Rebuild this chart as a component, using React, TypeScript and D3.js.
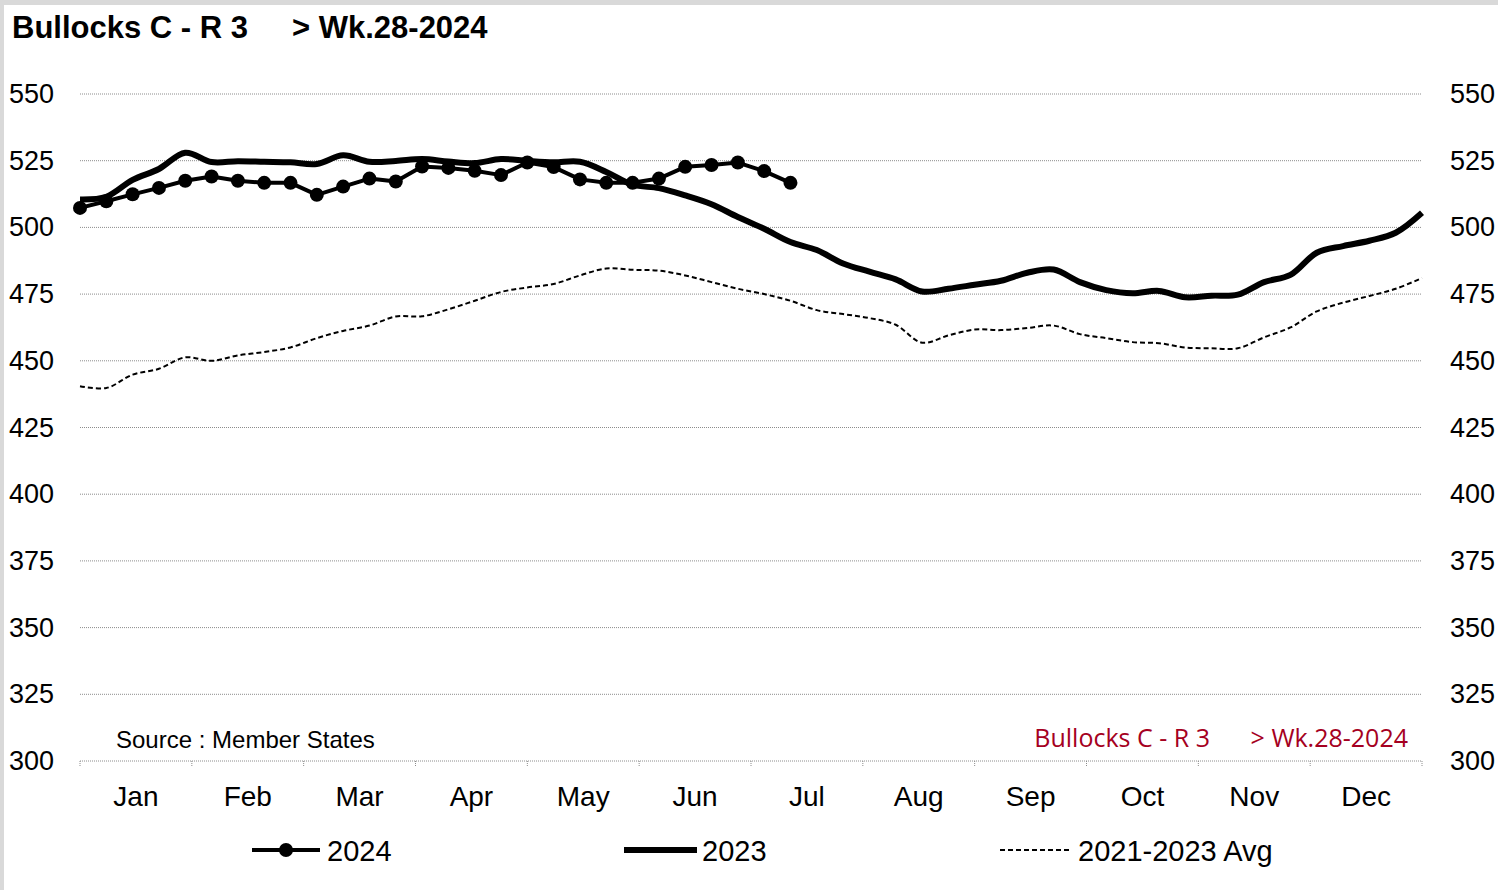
import React from 'react';
import * as d3 from 'd3';

// weekly prices, EUR/100kg
const months = ['Jan', 'Feb', 'Mar', 'Apr', 'May', 'Jun', 'Jul', 'Aug', 'Sep', 'Oct', 'Nov', 'Dec'];
const yTicks = [300, 325, 350, 375, 400, 425, 450, 475, 500, 525, 550];

const s2024 = [
  507.3, 509.8, 512.4, 514.8, 517.5, 519.1, 517.5, 516.7, 516.7, 512.2,
  515.3, 518.3, 517.2, 522.8, 522.3, 521.2, 519.6, 524.3, 522.6, 518.0,
  516.7, 516.7, 518.3, 522.7, 523.4, 524.3, 521.1, 516.7,
];

const s2023 = [
  510.5, 511.5, 517.8, 521.9, 528.0, 524.5, 524.8, 524.6, 524.4, 523.8,
  527.0, 524.6, 524.9, 525.6, 524.7, 524.1, 525.6, 524.9, 524.4, 524.6,
  520.8, 516.0, 514.7, 512.0, 508.7, 503.9, 499.5, 494.5, 491.5, 486.5,
  483.4, 480.5, 476.0, 477.0, 478.5, 480.0, 483.0, 484.2, 479.5, 476.5,
  475.3, 476.2, 473.8, 474.4, 474.8, 479.5, 482.2, 490.5, 493.0, 495.0,
  498.0, 505.5,
];

const sAvg = [
  440.5, 439.8, 444.8, 447.0, 451.3, 450.0, 452.0, 453.3, 455.0, 458.5,
  461.2, 463.2, 466.6, 466.7, 469.3, 472.5, 475.8, 477.5, 478.8, 482.0,
  484.6, 484.1, 483.8, 482.0, 479.5, 477.0, 475.0, 472.5, 469.0, 467.5,
  466.0, 463.5, 456.8, 459.5, 461.7, 461.5, 462.3, 463.2, 460.0, 458.5,
  457.0, 456.6, 455.0, 454.7, 454.7, 458.8, 462.5, 468.5, 471.8, 474.3,
  477.0, 481.0,
];

const W = 1498;
const H = 890;
const left = 80;
const right = 1422;
const top = 94;
const bottom = 761;
const font = 'Arial, "Liberation Sans", sans-serif';

export default function App() {
  const x = d3.scaleLinear().domain([1, 52]).range([left, right]);
  const xm = d3.scaleBand().domain(months).range([left, right]);
  const y = d3.scaleLinear().domain([300, 550]).range([bottom, top]);

  const smooth = d3
    .line<number>()
    .x((d, i) => x(i + 1))
    .y(d => y(d))
    .curve(d3.curveCatmullRom.alpha(0.5));
  const straight = d3
    .line<number>()
    .x((d, i) => x(i + 1))
    .y(d => y(d));

  const monthEdges = months.map(m => xm(m) as number).concat([right]);

  return (
    <svg width={W} height={H} style={{ position: 'absolute', left: 0, top: 0 }} fontFamily={font}>
      <rect x={0} y={0} width={W} height={H} fill="#d9d9d9" />
      <rect x={4} y={5} width={W - 4} height={H - 5} fill="#fff" />

      <text x={12} y={38} fontSize={31} fontWeight="bold">Bullocks C - R 3</text>
      <text x={292} y={38} fontSize={31} fontWeight="bold">&gt; Wk.28-2024</text>

      {/* gridlines */}
      {yTicks.map(t => (
        <line key={t} x1={left} x2={right} y1={y(t)} y2={y(t)}
          stroke="#8c8c8c" strokeWidth={1} strokeDasharray="1,1" />
      ))}
      {monthEdges.map((e, i) => (
        <line key={i} x1={e} x2={e} y1={bottom} y2={bottom + 6} stroke="#8c8c8c" strokeDasharray="1,1" />
      ))}

      {/* y labels both sides */}
      {yTicks.map(t => (
        <g key={t} fontSize={27}>
          <text x={54} y={y(t)} textAnchor="end" dominantBaseline="central">{t}</text>
          <text x={1450} y={y(t)} dominantBaseline="central">{t}</text>
        </g>
      ))}

      {months.map(m => (
        <text key={m} x={(xm(m) as number) + xm.bandwidth() / 2} y={806} fontSize={28} textAnchor="middle">{m}</text>
      ))}

      <text x={116} y={748} fontSize={24}>Source : Member States</text>
      <text x={1210} y={747} fontSize={25} fill="#a50021" textAnchor="end" fontFamily="'Open Sans', sans-serif">Bullocks C - R 3</text>
      <text x={1408} y={747} fontSize={25} fill="#a50021" textAnchor="end" fontFamily="'Open Sans', sans-serif">&gt; Wk.28-2024</text>

      {/* series */}
      <path d={smooth(sAvg) || ''} fill="none" stroke="#000" strokeWidth={2} strokeDasharray="5,3" />
      <path d={smooth(s2023) || ''} fill="none" stroke="#000" strokeWidth={6} strokeLinejoin="round" />
      <path d={straight(s2024) || ''} fill="none" stroke="#000" strokeWidth={4} strokeLinejoin="round" />
      {s2024.map((d, i) => (
        <circle key={i} cx={x(i + 1)} cy={y(d)} r={7} fill="#000" />
      ))}

      {/* legend */}
      <g fontSize={29}>
        <line x1={252} x2={320} y1={850} y2={850} stroke="#000" strokeWidth={4} />
        <circle cx={286} cy={850} r={7} fill="#000" />
        <text x={327} y={851} dominantBaseline="central">2024</text>
        <line x1={624} x2={697} y1={850} y2={850} stroke="#000" strokeWidth={6} />
        <text x={702} y={851} dominantBaseline="central">2023</text>
        <line x1={1000} x2={1072} y1={850} y2={850} stroke="#000" strokeWidth={2} strokeDasharray="5,3" />
        <text x={1078} y={851} dominantBaseline="central">2021-2023 Avg</text>
      </g>
    </svg>
  );
}
